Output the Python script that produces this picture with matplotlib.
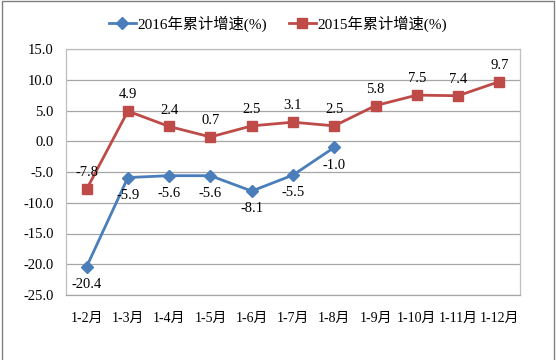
import matplotlib
matplotlib.use('Agg')
from matplotlib import pyplot as plt
from matplotlib.patches import Rectangle

plt.rcParams['font.family'] = ['Liberation Serif', 'Noto Sans CJK SC']

# data
months = ['1-2月', '1-3月', '1-4月', '1-5月', '1-6月', '1-7月', '1-8月',
          '1-9月', '1-10月', '1-11月', '1-12月']
growth_2016 = [-20.4, -5.9, -5.6, -5.6, -8.1, -5.5, -1.0]
growth_2015 = [-7.8, 4.9, 2.4, 0.7, 2.5, 3.1, 2.5, 5.8, 7.5, 7.4, 9.7]
y_ticks = [-25, -20, -15, -10, -5, 0, 5, 10, 15]

blue = '#4a7ebb'
red = '#be4b48'

fig = plt.figure(figsize=(5.56, 3.6), dpi=100)
ax = fig.add_axes([66 / 556, 1 - 295 / 360, 454 / 556, 246 / 360])

x16 = list(range(len(growth_2016)))
x15 = list(range(len(growth_2015)))

ax.plot(x16, growth_2016, color=blue, lw=2, marker='D', ms=6,
        label='2016年累计增速(%)', zorder=3)
ax.plot(x15, growth_2015, color=red, lw=2, marker='s', ms=7,
        label='2015年累计增速(%)', zorder=3)

for x, v in zip(x16, growth_2016):
    ax.annotate(f'{v:.1f}', (x, v), xytext=(0, -8), textcoords='offset points',
                ha='center', va='top', fontsize=10.5)
for x, v in zip(x15, growth_2015):
    ax.annotate(f'{v:.1f}', (x, v), xytext=(0, 7), textcoords='offset points',
                ha='center', va='bottom', fontsize=10.5)

ax.set_xlim(-0.5, len(months) - 0.5)
ax.set_ylim(-25, 15)
ax.set_yticks(y_ticks)
ax.set_yticklabels([f'{t:.1f}' for t in y_ticks], fontsize=10.5)
ax.set_xticks(x15)
ax.set_xticklabels(months, fontsize=10)
ax.tick_params(length=0, pad=9)
ax.tick_params(axis='x', pad=12)
ax.grid(axis='y', color='#a6a6a6', lw=0.9)
ax.set_axisbelow(True)
for s in ax.spines.values():
    s.set_color('#bfbfbf')
    s.set_linewidth(0.9)
ax.spines['bottom'].set_color('#a6a6a6')

fig.legend(*ax.get_legend_handles_labels(), loc='upper center',
           bbox_to_anchor=(0.5, 0.995), ncol=2, frameon=False,
           fontsize=11, handlelength=1.8, columnspacing=1.4, handletextpad=0.1)

# outer frame, bottom edge falls outside the image
fig.patches.append(Rectangle((0.004, -0.05), 0.992, 1.047, transform=fig.transFigure,
                             fill=False, edgecolor='#808080', lw=1))

fig.savefig('out.png', dpi=100)
